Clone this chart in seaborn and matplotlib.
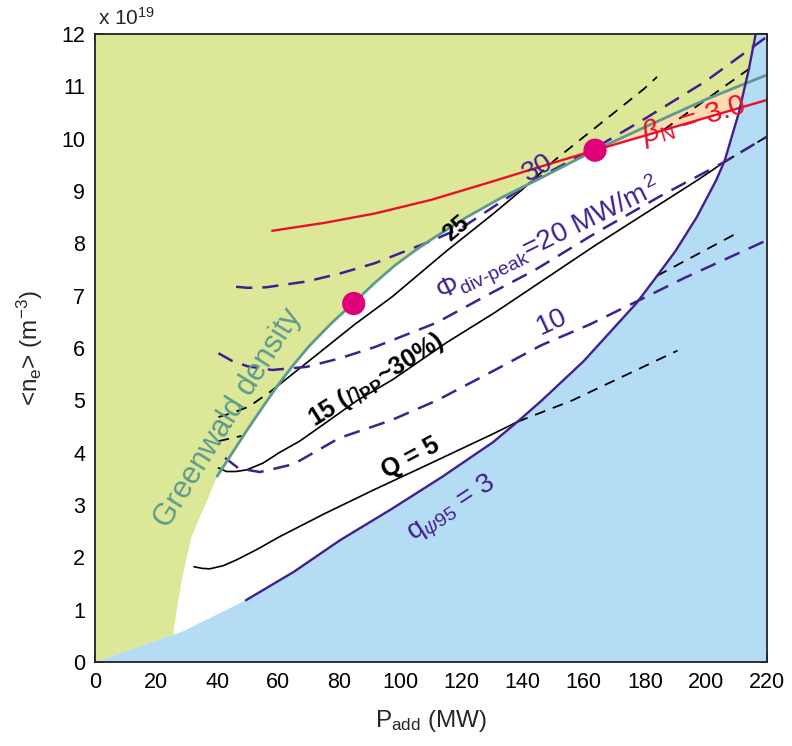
import matplotlib
matplotlib.use("Agg")
import matplotlib.pyplot as plt
import seaborn as sns

# ---------------- data (P_add in MW, <n_e> in 1e19 m^-3) ----------------
green_edge_x = [0, 25.6, 26.8, 28.5, 31.6, 34.5, 36.5, 40]
green_edge_y = [0, 0.52, 1.0, 1.6, 2.39, 2.8, 3.05, 3.55]

greenwald_x = [40, 45, 50, 55, 60, 65, 70, 77.5, 85, 91.5, 98, 104, 110, 121.7, 133, 145, 163.7, 180, 200, 220]
greenwald_y = [3.55, 4.0, 4.45, 4.88, 5.3, 5.68, 6.03, 6.48, 6.88, 7.24, 7.57, 7.83, 8.07, 8.5, 8.87, 9.22, 9.78, 10.22, 10.75, 11.22]

blue_edge_x = [0, 25.6, 28.6]
blue_edge_y = [0, 0.52, 0.58]

q95_x = [49.4, 65, 80.3, 97, 113.7, 130.3, 138.3, 146.3, 160, 177.3, 183.4, 190, 197, 203.4, 206.2, 210.7, 214, 216.3]
q95_y = [1.18, 1.72, 2.33, 2.92, 3.54, 4.2, 4.59, 5.0, 5.75, 6.86, 7.33, 7.85, 8.5, 9.21, 9.59, 10.48, 11.31, 12.0]

betaN_x = [58, 75, 91.6, 110, 130, 145, 163.7, 179, 200, 220]
betaN_y = [8.24, 8.39, 8.57, 8.83, 9.18, 9.45, 9.78, 10.04, 10.4, 10.74]

q5_x = [32.4, 35, 37.5, 42, 46.3, 53, 60.3, 75, 91.3, 110, 130.7, 138.3]
q5_y = [1.82, 1.79, 1.78, 1.84, 1.95, 2.15, 2.39, 2.83, 3.29, 3.8, 4.37, 4.59]
q5_ext_x = [138.3, 156.3, 190.7]
q5_ext_y = [4.59, 5.0, 5.95]

q15_x = [40.4, 43, 46, 49.6, 55, 60.3, 67, 72.6, 85.9, 97.3, 115, 130.7, 164, 197.3, 206.2]
q15_y = [3.71, 3.64, 3.64, 3.67, 3.8, 4.0, 4.22, 4.45, 5.0, 5.39, 6.1, 6.67, 7.97, 9.21, 9.56]
q15_ext_x = [206.2, 220]
q15_ext_y = [9.56, 10.04]

q25_low_x = [40.4, 45, 50.4, 57.5]
q25_low_y = [4.68, 4.76, 4.88, 5.17]
q25_x = [57.5, 70, 85, 97.3, 115, 130.7, 139.7]
q25_y = [5.17, 5.75, 6.45, 6.98, 7.85, 8.58, 9.02]
q25_ext_x = [139.7, 150.7, 179.7, 184]
q25_ext_y = [9.02, 9.6, 10.95, 11.18]

bk_dash_a_x = [186.2, 215]
bk_dash_a_y = [10.17, 11.37]
bk_dash_b_x = [184, 211]
bk_dash_b_y = [7.38, 8.22]
bk_dash_c_x = [40.4, 48]
bk_dash_c_y = [4.22, 4.32]

phi10_x = [42.6, 47, 54, 65, 80, 97, 112, 130, 146, 162, 177, 193, 220]
phi10_y = [3.9, 3.7, 3.63, 3.78, 4.28, 4.62, 5.0, 5.55, 6.05, 6.45, 6.88, 7.34, 8.06]

phi20_x = [40.4, 45, 50, 58, 69.3, 80, 91.7, 111.7, 129.7, 144, 164, 185, 206.2, 220]
phi20_y = [5.9, 5.75, 5.65, 5.58, 5.64, 5.8, 6.02, 6.48, 7.05, 7.49, 8.2, 8.9, 9.56, 10.04]

phi30_x = [46.2, 50, 56, 69.2, 80, 91.6, 110.7, 120.7, 130, 145, 163.7, 180, 200, 220]
phi30_y = [7.17, 7.15, 7.16, 7.27, 7.42, 7.62, 8.06, 8.32, 8.68, 9.25, 9.82, 10.38, 11.1, 11.95]

points_x = [84.7, 163.7]
points_y = [6.85, 9.78]

x_ticks = [0, 20, 40, 60, 80, 100, 120, 140, 160, 180, 200, 220]
y_ticks = [0, 1, 2, 3, 4, 5, 6, 7, 8, 9, 10, 11, 12]

# ---------------- style ----------------
sns.set_theme(style="ticks")
plt.rcParams["font.family"] = ["Liberation Sans", "DejaVu Sans"]
plt.rcParams["mathtext.fontset"] = "custom"
plt.rcParams["mathtext.rm"] = "Liberation Sans"
plt.rcParams["mathtext.it"] = "Liberation Sans:italic"
plt.rcParams["mathtext.bf"] = "Liberation Sans:bold"
plt.rcParams["mathtext.sf"] = "Liberation Sans"

GREEN = "#dce898"
BLUE = "#b5dcf5"
PEACH = "#fbdcb0"
TEAL = "#5e9a8e"
RED = "#e8112d"
PURPLE = "#40208f"
MAGENTA = "#e0007a"

fig = plt.figure(figsize=(7.92, 7.46), dpi=100)
ax = fig.add_axes([95 / 792, 84 / 746, 672 / 792, 628 / 746])

# ---------------- filled regions ----------------
gx = green_edge_x + greenwald_x[1:] + [220, 0]
gy = green_edge_y + greenwald_y[1:] + [12, 12]
ax.fill(gx, gy, color=GREEN, lw=0, zorder=1)

px = [x for x in greenwald_x if x >= 163.7] + [x for x in betaN_x if x >= 163.7][::-1]
py = [y for x, y in zip(greenwald_x, greenwald_y) if x >= 163.7] + \
     [y for x, y in zip(betaN_x, betaN_y) if x >= 163.7][::-1]
ax.fill(px, py, color=PEACH, lw=0, zorder=1.5)

bx = blue_edge_x + q95_x + [220, 220]
by = blue_edge_y + q95_y + [12, 0]
ax.fill(bx, by, color=BLUE, lw=0, zorder=2)


def line(xs, ys, color, lw, ls="-", z=3):
    sns.lineplot(x=xs, y=ys, ax=ax, color=color, linewidth=lw, linestyle=ls,
                 sort=False, estimator=None, zorder=z)


BKD = (0, (6, 4.5))
PUD = (0, (6.5, 4))

# black Q contours
line(q5_x, q5_y, "black", 1.2)
line(q5_ext_x, q5_ext_y, "black", 1.3, BKD)
line(q15_x, q15_y, "black", 1.2)
line(q15_ext_x, q15_ext_y, "black", 1.3, BKD)
line(q25_low_x, q25_low_y, "black", 1.3, BKD)
line(q25_x, q25_y, "black", 1.2)
line(q25_ext_x, q25_ext_y, "black", 1.3, BKD)
line(bk_dash_a_x, bk_dash_a_y, "black", 1.3, BKD)
line(bk_dash_b_x, bk_dash_b_y, "black", 1.3, BKD)
line(bk_dash_c_x, bk_dash_c_y, "black", 1.3, BKD)

# purple divertor heat flux contours
line(phi10_x, phi10_y, PURPLE, 1.8, PUD)
line(phi20_x, phi20_y, PURPLE, 1.8, PUD)
line(phi30_x, phi30_y, PURPLE, 1.8, PUD)

# limits
line(greenwald_x, greenwald_y, TEAL, 2.0, "-", 4)
line(betaN_x, betaN_y, RED, 1.7, "-", 4)
line(q95_x, q95_y, PURPLE, 1.7, "-", 4)

sns.scatterplot(x=points_x, y=points_y, ax=ax, color=MAGENTA, s=280,
                edgecolor="none", zorder=6)

# ---------------- annotations ----------------
ax.text(43.6, 4.65, "Greenwald density", color=TEAL, fontsize=22, rotation=58,
        ha="center", va="center", rotation_mode="anchor", zorder=7)
ax.text(196, 10.36, r"$\beta_{\mathrm{N}}$ = 3.0", color=RED, fontsize=21, rotation=17,
        ha="center", va="center", rotation_mode="anchor", zorder=7)
ax.text(145, 9.44, "30", color=PURPLE, fontsize=20, rotation=30,
        ha="center", va="center", rotation_mode="anchor", zorder=7)
ax.text(118.3, 8.29, "25", color="black", fontsize=17, fontweight="bold", rotation=40,
        ha="center", va="center", rotation_mode="anchor", zorder=7)
ax.text(148.5, 8.05, r"$\Phi_{\mathrm{div}\text{-}\mathrm{peak}}$=20 MW/m$^{\,2}$", color=PURPLE,
        fontsize=20, rotation=26, ha="center", va="center", rotation_mode="anchor", zorder=7)
ax.text(92, 5.39, r"15 ($\eta_{\mathbf{PP}}$~30%)", color="black", fontsize=18,
        fontweight="bold", rotation=32, ha="center", va="center",
        rotation_mode="anchor", zorder=7)
ax.text(149.5, 6.5, "10", color=PURPLE, fontsize=20, rotation=25,
        ha="center", va="center", rotation_mode="anchor", zorder=7)
ax.text(103.3, 3.9, "Q = 5", color="black", fontsize=18, fontweight="bold", rotation=28,
        ha="center", va="center", rotation_mode="anchor", zorder=7)
ax.text(117, 2.92, r"q$_{\psi95}$ = 3", color=PURPLE, fontsize=20, rotation=33,
        ha="center", va="center", rotation_mode="anchor", zorder=7)

# ---------------- axes ----------------
ax.set_xlim(0, 220)
ax.set_ylim(0, 12)
ax.set_xticks(x_ticks)
ax.set_yticks(y_ticks)
ax.set_xticklabels([str(t) for t in x_ticks])
ax.set_yticklabels([str(t) for t in y_ticks])
ax.tick_params(direction="in", top=True, right=True, length=6, width=1.2,
               labelsize=15.5, colors="black", pad=7)
for s in ax.spines.values():
    s.set_visible(True)
    s.set_linewidth(1.3)
    s.set_color("#222222")
    s.set_zorder(10)
ax.set_xlabel(r"P$_{\mathrm{add}}$ (MW)", fontsize=17.5, labelpad=11)
ax.set_ylabel(r"<n$_{\mathrm{e}}$> (m$^{-3}$)", fontsize=17.5, labelpad=12)
fig.text(98 / 792, 1 - 18 / 746, r"x 10$^{19}$", fontsize=15, ha="left", va="center")

fig.savefig("out.png", dpi=100)
